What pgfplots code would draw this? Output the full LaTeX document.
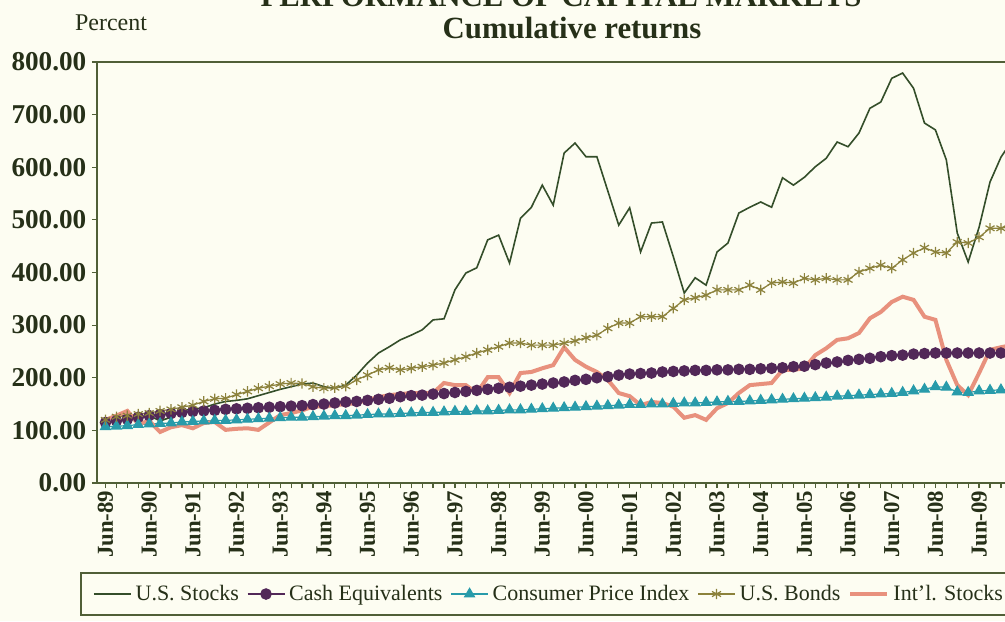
\documentclass[border=0pt]{standalone}
\usepackage{pgfplots}
\pgfplotsset{compat=1.18}
\usepackage{pgfplotstable}
\usepackage{fontspec}
\setmainfont{Liberation Serif}
\definecolor{bg}{RGB}{253,253,242}
\definecolor{axcol}{RGB}{80,95,55}
\definecolor{txt}{RGB}{38,48,24}
\definecolor{stockc}{RGB}{52,78,42}
\definecolor{cashc}{RGB}{82,40,88}
\definecolor{cpic}{RGB}{40,155,170}
\definecolor{bondc}{RGB}{140,130,60}
\definecolor{intlc}{RGB}{232,145,125}

\pgfplotstableread{
i stocks cash cpi bonds intl
0 118 115 107 120 120
1 124 118 108 126 128
2 130 121 109 128 137
3 122 125 111 131 112
4 128 128 112 133 118
5 118 130 113 137 97
6 125 132 114 140 106
7 138 134 116 144 110
8 140 136 117 148 104
9 143 137 118 155 114
10 150 138 119 160 116
11 155 140 119 161 101
12 157 141 120 168 103
13 160 142 121 174 104
14 166 143 122 180 101
15 172 144 123 184 115
16 178 145 124 188 129
17 183 146 125 190 133
18 188 147 125 189 138
19 190 149 126 183 145
20 183 150 127 180 146
21 180 152 128 181 148
22 186 154 128 184 150
23 205 155 129 196 152
24 228 157 130 205 158
25 247 159 131 215 163
26 259 161 131 219 167
27 272 164 132 215 169
28 281 166 133 218 171
29 291 167 134 221 171
30 310 169 134 224 171
31 312 170 135 228 190
32 367 172 136 234 186
33 399 174 136 240 186
34 409 176 137 247 171
35 462 178 137 253 201
36 471 180 138 259 201
37 418 182 139 266 171
38 503 184 139 266 209
39 524 186 140 262 211
40 566 188 141 262 218
41 528 190 142 262 224
42 627 192 143 266 258
43 646 195 144 270 234
44 620 197 145 276 221
45 620 200 146 281 211
46 555 202 147 294 196
47 490 205 148 304 171
48 523 207 149 304 165
49 439 208 149 316 148
50 494 209 150 316 154
51 496 211 150 316 152
52 430 212 151 332 145
53 361 213 152 348 124
54 390 214 152 352 129
55 376 214 153 357 120
56 439 215 154 367 142
57 456 215 155 367 152
58 513 216 155 367 171
59 524 216 156 376 186
60 534 217 157 367 188
61 524 218 158 380 190
62 580 219 159 382 215
63 566 221 160 380 215
64 581 222 161 389 218
65 601 225 162 386 243
66 617 228 163 389 256
67 648 230 165 386 272
68 639 233 166 386 275
69 665 235 167 401 285
70 712 237 168 408 313
71 724 240 169 414 325
72 769 242 170 408 344
73 779 243 172 424 354
74 750 245 175 437 348
75 684 246 178 447 316
76 671 247 183 439 310
77 614 247 182 437 234
78 475 247 173 458 186
79 420 247 172 456 167
80 486 247 175 467 209
81 572 247 176 484 253
82 619 247 177 484 258
83 650 247 178 488 262
}\datatable

\begin{document}
\begin{tikzpicture}
\useasboundingbox (0,0) rectangle (502.5pt,-310.5pt);
\fill[bg] (0,0) rectangle (502.5pt,-310.5pt);
\begin{scope}
\clip (0,0) rectangle (502.5pt,-310.5pt);
\begin{axis}[
  at={(48.5pt,-241.5pt)}, anchor=south west,
  scale only axis, width=459pt, height=210.5pt,
  xmin=-0.778, xmax=83.29, ymin=0, ymax=800,
  axis line style={axcol, line width=0.8pt},
  tick style={axcol, line width=0.6pt},
  tick align=outside, tick pos=left,
  major tick length=2.6pt, minor tick length=2.6pt,
  xtick={0,4,...,80},
  minor xtick={0,1,...,83},
  xticklabels={Jun-89,Jun-90,Jun-91,Jun-92,Jun-93,Jun-94,Jun-95,Jun-96,Jun-97,Jun-98,Jun-99,Jun-00,Jun-01,Jun-02,Jun-03,Jun-04,Jun-05,Jun-06,Jun-07,Jun-08,Jun-09},
  xticklabel style={rotate=90, anchor=east, font=\fontsize{11.4}{12}\selectfont\bfseries, text=txt, inner sep=1pt},
  ytick={0,100,...,800},
  yticklabel style={font=\fontsize{13.6}{16}\selectfont\bfseries, text=txt, xshift=0.8pt, /pgf/number format/.cd, fixed, fixed zerofill, precision=2, 1000 sep={}, assume math mode=true},
  legend style={at={(axis description cs:-0.0185,-0.2637)}, anchor=west, legend columns=5, draw=axcol, line width=1pt, fill=bg, font=\fontsize{11}{13}\selectfont, text=txt, inner xsep=6pt, inner ysep=4pt, /tikz/every even column/.append style={column sep=2pt}},
  legend image code/.code={\draw[mark repeat=2,mark phase=2] plot coordinates {(0pt,0pt) (9.25pt,0pt) (18.5pt,0pt)};},
]
\addplot[stockc, line width=0.8pt, no markers] table[x=i,y=stocks]{\datatable};
\addlegendentry{U.S. Stocks}
\addplot[cashc, line width=0.6pt, mark=*, mark size=2.6pt, mark options={fill=cashc, draw=cashc}] table[x=i,y=cash]{\datatable};
\addlegendentry{Cash Equivalents}
\addplot[cpic, line width=0.6pt, mark=triangle*, mark size=2.8pt, mark options={fill=cpic, draw=cpic}] table[x=i,y=cpi]{\datatable};
\addlegendentry{Consumer Price Index}
\addplot[bondc, line width=0.6pt, mark=asterisk, mark size=2.6pt, mark options={line width=0.6pt}] table[x=i,y=bonds]{\datatable};
\addlegendentry{U.S. Bonds}
\addplot[intlc, line width=2pt, no markers] table[x=i,y=intl]{\datatable};
\addlegendentry{Int'l. Stocks}
\end{axis}
\node[anchor=base, font=\fontsize{12}{14}\selectfont, text=txt] at (55.5pt,-15pt) {Percent};
\node[anchor=base, font=\fontsize{15.4}{18}\selectfont\bfseries, text=txt] at (286pt,-19.5pt) {Cumulative returns};
\node[anchor=base, font=\fontsize{15.4}{18}\selectfont\bfseries, text=txt] at (280.5pt,-3pt) {PERFORMANCE OF CAPITAL MARKETS};
\end{scope}
\end{tikzpicture}
\end{document}
